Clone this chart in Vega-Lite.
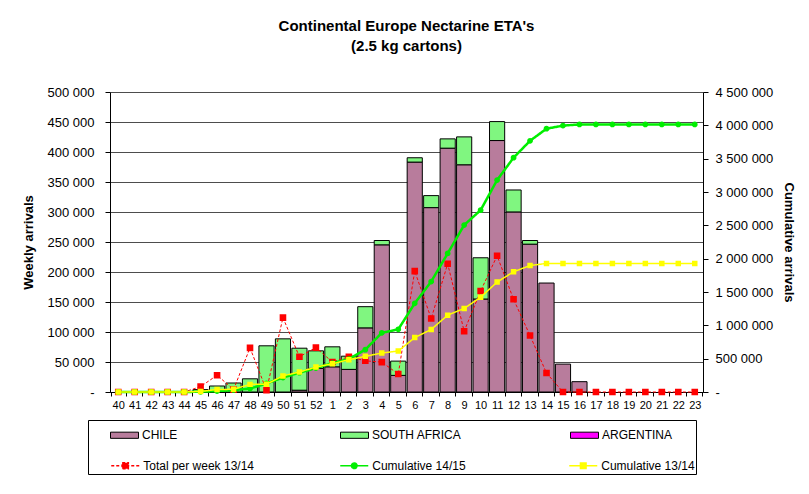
{
  "$schema": "https://vega.github.io/schema/vega-lite/v6.json",
  "autosize": {"type": "none"},
  "width": 593,
  "height": 300,
  "padding": {"left": 110, "top": 92, "right": 106, "bottom": 102},
  "background": "white",
  "config": {
    "view": {"stroke": null},
    "font": "Liberation Sans",
    "locale": {"number": {"decimal": ".", "thousands": " ", "grouping": [3], "currency": ["", ""]}},
    "axis": {"labelFont": "Liberation Sans", "labelColor": "black", "titleFont": "Liberation Sans", "titleColor": "black", "domainColor": "black", "tickColor": "black", "labelOverlap": false},
    "axisLeft": {"tickCount": 30, "labelOverlap": false},
    "axisRight": {"tickCount": 30, "labelOverlap": false}
  },
  "title": {
    "text": ["Continental Europe Nectarine ETA's", "(2.5 kg cartons)"],
    "font": "Liberation Sans", "fontSize": 15, "fontWeight": "bold", "color": "black",
    "anchor": "middle", "offset": 32, "lineHeight": 20
  },
  "data": {"values": [
    {"week": "40", "CHILE": 0, "SOUTH AFRICA": 0, "tot1314": 0, "cum1415": 0, "cum1314": 0},
    {"week": "41", "CHILE": 0, "SOUTH AFRICA": 0, "tot1314": 0, "cum1415": 0, "cum1314": 0},
    {"week": "42", "CHILE": 0, "SOUTH AFRICA": 0, "tot1314": 0, "cum1415": 0, "cum1314": 0},
    {"week": "43", "CHILE": 0, "SOUTH AFRICA": 0, "tot1314": 0, "cum1415": 0, "cum1314": 0},
    {"week": "44", "CHILE": 0, "SOUTH AFRICA": 0, "tot1314": 0, "cum1415": 0, "cum1314": 0},
    {"week": "45", "CHILE": 0, "SOUTH AFRICA": 4000, "tot1314": 8900, "cum1415": 4000, "cum1314": 8900},
    {"week": "46", "CHILE": 0, "SOUTH AFRICA": 10000, "tot1314": 28000, "cum1415": 14000, "cum1314": 36900},
    {"week": "47", "CHILE": 0, "SOUTH AFRICA": 15000, "tot1314": 4000, "cum1415": 29000, "cum1314": 40900},
    {"week": "48", "CHILE": 0, "SOUTH AFRICA": 22000, "tot1314": 73600, "cum1415": 51000, "cum1314": 114500},
    {"week": "49", "CHILE": 0, "SOUTH AFRICA": 77000, "tot1314": 3000, "cum1415": 128000, "cum1314": 117500},
    {"week": "50", "CHILE": 0, "SOUTH AFRICA": 88600, "tot1314": 124000, "cum1415": 216600, "cum1314": 241500},
    {"week": "51", "CHILE": 3000, "SOUTH AFRICA": 70000, "tot1314": 58700, "cum1415": 289600, "cum1314": 300200},
    {"week": "52", "CHILE": 39300, "SOUTH AFRICA": 29300, "tot1314": 74000, "cum1415": 358200, "cum1314": 374200},
    {"week": "1", "CHILE": 42000, "SOUTH AFRICA": 33300, "tot1314": 50000, "cum1415": 433500, "cum1314": 424200},
    {"week": "2", "CHILE": 37700, "SOUTH AFRICA": 22000, "tot1314": 58700, "cum1415": 493200, "cum1314": 482900},
    {"week": "3", "CHILE": 106900, "SOUTH AFRICA": 35300, "tot1314": 52000, "cum1415": 635400, "cum1314": 534900},
    {"week": "4", "CHILE": 245300, "SOUTH AFRICA": 7200, "tot1314": 49800, "cum1415": 887900, "cum1314": 584700},
    {"week": "5", "CHILE": 27700, "SOUTH AFRICA": 23800, "tot1314": 29900, "cum1415": 939400, "cum1314": 614600},
    {"week": "6", "CHILE": 383200, "SOUTH AFRICA": 7200, "tot1314": 201500, "cum1415": 1329800, "cum1314": 816100},
    {"week": "7", "CHILE": 307300, "SOUTH AFRICA": 20000, "tot1314": 122400, "cum1415": 1657100, "cum1314": 938500},
    {"week": "8", "CHILE": 406400, "SOUTH AFRICA": 15500, "tot1314": 213700, "cum1415": 2079000, "cum1314": 1152200},
    {"week": "9", "CHILE": 378700, "SOUTH AFRICA": 46500, "tot1314": 101300, "cum1415": 2504200, "cum1314": 1253500},
    {"week": "10", "CHILE": 155000, "SOUTH AFRICA": 68700, "tot1314": 168300, "cum1415": 2727900, "cum1314": 1421800},
    {"week": "11", "CHILE": 419100, "SOUTH AFRICA": 31600, "tot1314": 227000, "cum1415": 3178600, "cum1314": 1648800},
    {"week": "12", "CHILE": 300100, "SOUTH AFRICA": 36600, "tot1314": 154500, "cum1415": 3515300, "cum1314": 1803300},
    {"week": "13", "CHILE": 246400, "SOUTH AFRICA": 6100, "tot1314": 94100, "cum1415": 3767800, "cum1314": 1897400},
    {"week": "14", "CHILE": 181600, "SOUTH AFRICA": 0, "tot1314": 31600, "cum1415": 3949400, "cum1314": 1929000},
    {"week": "15", "CHILE": 46500, "SOUTH AFRICA": 0, "tot1314": 0, "cum1415": 3995900, "cum1314": 1929000},
    {"week": "16", "CHILE": 17200, "SOUTH AFRICA": 0, "tot1314": 0, "cum1415": 4013100, "cum1314": 1929000},
    {"week": "17", "CHILE": 0, "SOUTH AFRICA": 0, "tot1314": 0, "cum1415": 4013100, "cum1314": 1929000},
    {"week": "18", "CHILE": 0, "SOUTH AFRICA": 0, "tot1314": 0, "cum1415": 4013100, "cum1314": 1929000},
    {"week": "19", "CHILE": 0, "SOUTH AFRICA": 0, "tot1314": 0, "cum1415": 4013100, "cum1314": 1929000},
    {"week": "20", "CHILE": 0, "SOUTH AFRICA": 0, "tot1314": 0, "cum1415": 4013100, "cum1314": 1929000},
    {"week": "21", "CHILE": 0, "SOUTH AFRICA": 0, "tot1314": 0, "cum1415": 4013100, "cum1314": 1929000},
    {"week": "22", "CHILE": 0, "SOUTH AFRICA": 0, "tot1314": 0, "cum1415": 4013100, "cum1314": 1929000},
    {"week": "23", "CHILE": 0, "SOUTH AFRICA": 0, "tot1314": 0, "cum1415": 4013100, "cum1314": 1929000}
  ]},
  "encoding": {
    "x": {
      "field": "week", "type": "nominal",
      "scale": {"domain": ["40","41","42","43","44","45","46","47","48","49","50","51","52","1","2","3","4","5","6","7","8","9","10","11","12","13","14","15","16","17","18","19","20","21","22","23"], "paddingInner": 0.08, "paddingOuter": 0.04},
      "axis": {"title": null, "labelAngle": 0, "labelFontSize": 11, "labelPadding": 3, "tickSize": 4, "tickBand": "extent", "domainColor": "black", "grid": false}
    }
  },
  "layer": [
    {
      "layer": [
        {
          "transform": [
            {"fold": ["CHILE", "SOUTH AFRICA"], "as": ["country", "value"]},
            {"filter": "datum.value > 0"}
          ],
          "mark": {"type": "bar", "stroke": "black", "strokeWidth": 1},
          "encoding": {
            "y": {
              "field": "value", "type": "quantitative", "stack": "zero",
              "scale": {"domain": [0, 500000], "nice": false},
              "axis": {"orient": "left", "title": "Weekly arrivals", "titleFontSize": 13, "titleFontWeight": "bold", "titlePadding": 12,
                       "values": [0,50000,100000,150000,200000,250000,300000,350000,400000,450000,500000], "tickCount": 30, "labelOverlap": false,
                       "format": ",d", "labelExpr": "datum.value === 0 ? '-' : datum.label",
                       "labelFontSize": 13, "tickSize": 5, "labelPadding": 11,
                       "grid": true, "gridColor": "#4d4d4d", "gridWidth": 1}
            },
            "order": {"field": "country", "sort": "ascending"},
            "fill": {
              "field": "country", "type": "nominal",
              "scale": {
                "domain": ["CHILE", "SOUTH AFRICA", "ARGENTINA"],
                "range": ["#b87c9c", "#80f680", "#ff00ff"]
              },
              "legend": {
                "orient": "none", "legendX": 0, "legendY": 328.5, "direction": "horizontal", "columns": 3,
                "title": null, "padding": 0, "gridAlign": "all",
                "columnPadding": 106, "rowPadding": 0,
                "labelFont": "Liberation Sans", "labelFontSize": 12, "labelColor": "black", "labelOffset": 3,
                "labelLimit": 300,
                "symbolType": "M-1,-0.22H1V0.22H-1Z", "symbolSize": 784, "symbolOffset": 0,
                "symbolStrokeColor": "black", "symbolStrokeWidth": 1, "symbolOpacity": 1
              }
            }
          }
        },
        {
          "mark": {"type": "line", "strokeWidth": 1},
          "encoding": {
            "y": {"field": "tot1314", "type": "quantitative"},
            "stroke": {
              "datum": "Total per week 13/14",
              "scale": {"domain": ["Total per week 13/14", "Cumulative 14/15", "Cumulative 13/14"], "range": ["#ff0000", "#00ee00", "#ffff00"]},
              "legend": {
                "orient": "none", "legendX": -22, "legendY": 328, "direction": "horizontal", "columns": 3,
                "title": "\u00a0",
                "titleFontSize": 12, "titlePadding": 17, "titleColor": "white",
                "strokeColor": "black", "padding": 1.25, "gridAlign": "all",
                "columnPadding": 64, "rowPadding": 0,
                "labelFont": "Liberation Sans", "labelFontSize": 12, "labelColor": "black", "labelOffset": 3,
                "labelLimit": 300,
                "symbolSize": 784, "symbolOffset": 21, "symbolStrokeWidth": 1.5, "symbolOpacity": 1
              }
            },
            "strokeDash": {
              "datum": "Total per week 13/14",
              "scale": {"domain": ["Total per week 13/14", "Cumulative 14/15", "Cumulative 13/14"], "range": [[3, 2], [1, 0], [1, 0]]}
            }
          }
        },
        {
          "mark": {"type": "point", "filled": true, "size": 900, "opacity": 1},
          "encoding": {
            "y": {"field": "tot1314", "type": "quantitative"},
            "color": {
              "datum": "Total per week 13/14",
              "scale": {"domain": ["Total per week 13/14", "Cumulative 14/15", "Cumulative 13/14"], "range": ["#ff0000", "#00ee00", "#ffff00"]}
            },
            "shape": {
              "datum": "Total per week 13/14",
              "scale": {"domain": ["Total per week 13/14", "Cumulative 14/15", "Cumulative 13/14"],
                        "range": ["M-1,0H1M-0.22,-0.22H0.22V0.22H-0.22Z", "M-1,0H1M0.2,0A0.2,0.2 0 1 1 -0.2,0A0.2,0.2 0 1 1 0.2,0Z", "M-1,0H1M-0.2,-0.2H0.2V0.2H-0.2Z"]}
            }
          }
        }
      ]
    },
    {
      "layer": [
        {
          "mark": {"type": "line", "strokeWidth": 2.5},
          "encoding": {
            "y": {
              "field": "cum1415", "type": "quantitative",
              "scale": {"domain": [0, 4500000], "nice": false},
              "axis": {"orient": "right", "title": "Cumulative arrivals", "titleFontSize": 13, "titleFontWeight": "bold", "titlePadding": 9,
                       "values": [0,500000,1000000,1500000,2000000,2500000,3000000,3500000,4000000,4500000], "tickCount": 30, "labelOverlap": false,
                       "format": ",d", "labelExpr": "datum.value === 0 ? '-' : datum.label",
                       "labelFontSize": 13, "tickSize": 5, "labelPadding": 7, "grid": false}
            },
            "stroke": {"datum": "Cumulative 14/15"},
            "strokeDash": {"datum": "Cumulative 14/15"}
          }
        },
        {
          "mark": {"type": "point", "filled": true, "size": 841, "opacity": 1},
          "encoding": {
            "y": {"field": "cum1415", "type": "quantitative"},
            "color": {"datum": "Cumulative 14/15"},
            "shape": {"datum": "Cumulative 14/15"}
          }
        },
        {
          "mark": {"type": "line", "strokeWidth": 1.5},
          "encoding": {
            "y": {"field": "cum1314", "type": "quantitative"},
            "stroke": {"datum": "Cumulative 13/14"},
            "strokeDash": {"datum": "Cumulative 13/14"}
          }
        },
        {
          "mark": {"type": "point", "filled": true, "size": 750, "opacity": 1},
          "encoding": {
            "y": {"field": "cum1314", "type": "quantitative"},
            "color": {"datum": "Cumulative 13/14"},
            "shape": {"datum": "Cumulative 13/14"}
          }
        }
      ]
    }
  ],
  "resolve": {"scale": {"y": "independent"}}
}
